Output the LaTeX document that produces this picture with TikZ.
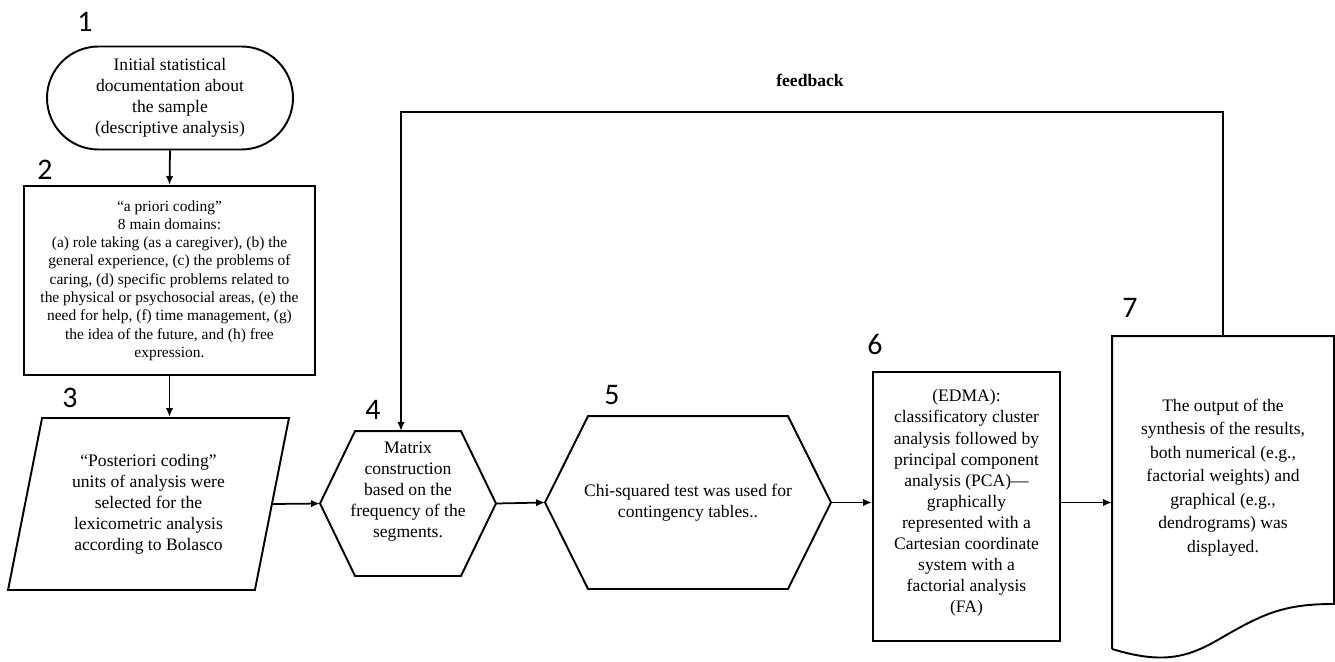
\documentclass[tikz,border=0pt]{standalone}
\usepackage{fontspec}
\setmainfont{Liberation Serif}
\newfontfamily\serif{Liberation Serif}
\newfontfamily\numfont{Carlito}
\usetikzlibrary{shapes.geometric,shapes.misc,arrows.meta,calc}

\begin{document}
\begin{tikzpicture}[line width=1.1pt,
	txt/.style = {align=center, inner sep=0pt, font=\serif\fontsize{10}{12}\selectfont},
	box/.style = {txt, draw},
	hexa/.style = {txt},
	num/.style = {font=\numfont\fontsize{17}{20}\selectfont},
	arr/.style = {line width=1pt, -{Latex[length=1.8mm,width=1.5mm]}}]
	\useasboundingbox (0,0) rectangle (26.70,-13.22);
	% steps
	\node[box, rounded rectangle, minimum width=4.92cm, minimum height=2.06cm] (s1) at (3.40,-1.96)
		{Initial statistical\\documentation about\\the sample\\(descriptive analysis)};
	\node[box, minimum width=5.82cm, minimum height=3.78cm, font=\serif\fontsize{8.8}{10.4}\selectfont] (s2) at (3.39,-5.61)
		{“a priori coding”\\8 main domains:\\(a) role taking (as a caregiver), (b) the\\general experience, (c) the problems of\\caring, (d) specific problems related to\\the physical or psychosocial areas, (e) the\\need for help, (f) time management, (g)\\the idea of the future, and (h) free\\expression.};
	\node[box, trapezium, trapezium stretches, trapezium left angle=76.3, trapezium right angle=103.7,
		minimum width=5.62cm, minimum height=3.44cm] (s3) at (2.97,-10.08)
		{“Posteriori coding”\\units of analysis were\\selected for the\\lexicometric analysis\\according to Bolasco};
	\node[hexa, minimum width=3.48cm, minimum height=2.86cm] (s4) at (8.16,-10.07)
		{Matrix\\construction\\based on the\\frequency of the\\segments.\\[4pt]};
	\node[hexa, minimum width=5.68cm, minimum height=3.42cm] (s5) at (13.76,-10.05)
		{Chi-squared test was used for\\contingency tables..};
	\node[box, minimum width=3.74cm, minimum height=5.38cm] (s6) at (19.33,-10.13)
		{(EDMA):\\classificatory cluster\\analysis followed by\\principal component\\analysis (PCA)—\\graphically\\represented with a\\Cartesian coordinate\\system with a\\factorial analysis\\(FA)\\[-6pt]};
	\node[txt, minimum width=4.40cm, minimum height=6.22cm, font=\serif\fontsize{10}{13.4}\selectfont] (s7) at (24.46,-9.85)
		{The output of the\\synthesis of the results,\\both numerical (e.g.,\\factorial weights) and\\graphical (e.g.,\\dendrograms) was\\displayed.\\[6pt]};
	% outlines
	\foreach \n/\d in {s4/0.70, s5/0.86}
		\draw (\n.west) -- ($(\n.north west)+(\d,0)$) -- ($(\n.north east)+(-\d,0)$) -- (\n.east)
			-- ($(\n.south east)+(-\d,0)$) -- ($(\n.south west)+(\d,0)$) -- cycle;
	\draw (s7.south west) -- (s7.north west) -- (s7.north east) -- ($(s7.south east)+(0,0.90)$)
		.. controls ($(s7.south east)+(-1.06,0.90)$) and ($(s7.south east)+(-1.46,0.68)$) .. ($(s7.south east)+(-2.36,0.16)$)
		.. controls ($(s7.south east)+(-2.96,-0.18)$) and ($(s7.south east)+(-3.46,-0.30)$) .. (s7.south west);
	% numbers
	\node[num] (l1) at (1.70,-0.44) {1};
	\node[num] (l2) at (0.90,-3.40) {2};
	\node[num] (l3) at (1.40,-7.96) {3};
	\node[num] (l4) at (7.46,-8.20) {4};
	\node[num] (l5) at (12.24,-7.90) {5};
	\node[num] (l6) at (17.50,-6.90) {6};
	\node[num] (l7) at (22.60,-6.16) {7};
	% arrows
	\draw[arr] (s1.south) -- (s2.north);
	\draw[arr] (s2.south) -- (s2.south |- s3.north);
	\draw[arr] (s3.east) -- (s4.west);
	\draw[arr] (s4.east) -- (s5.west);
	\draw[arr] (s5.east) -- (s5.east -| s6.west);
	\draw[arr] (s5.east -| s6.east) -- (s5.east -| s7.west);
	\coordinate (fb) at (8.02,-2.24);
	\draw[arr] (s7.north) |- (fb) -- (fb |- s4.north);
	\node[font=\serif\bfseries\fontsize{10}{12}\selectfont] (fbl) at (16.20,-1.60) {feedback};
\end{tikzpicture}
\end{document}
